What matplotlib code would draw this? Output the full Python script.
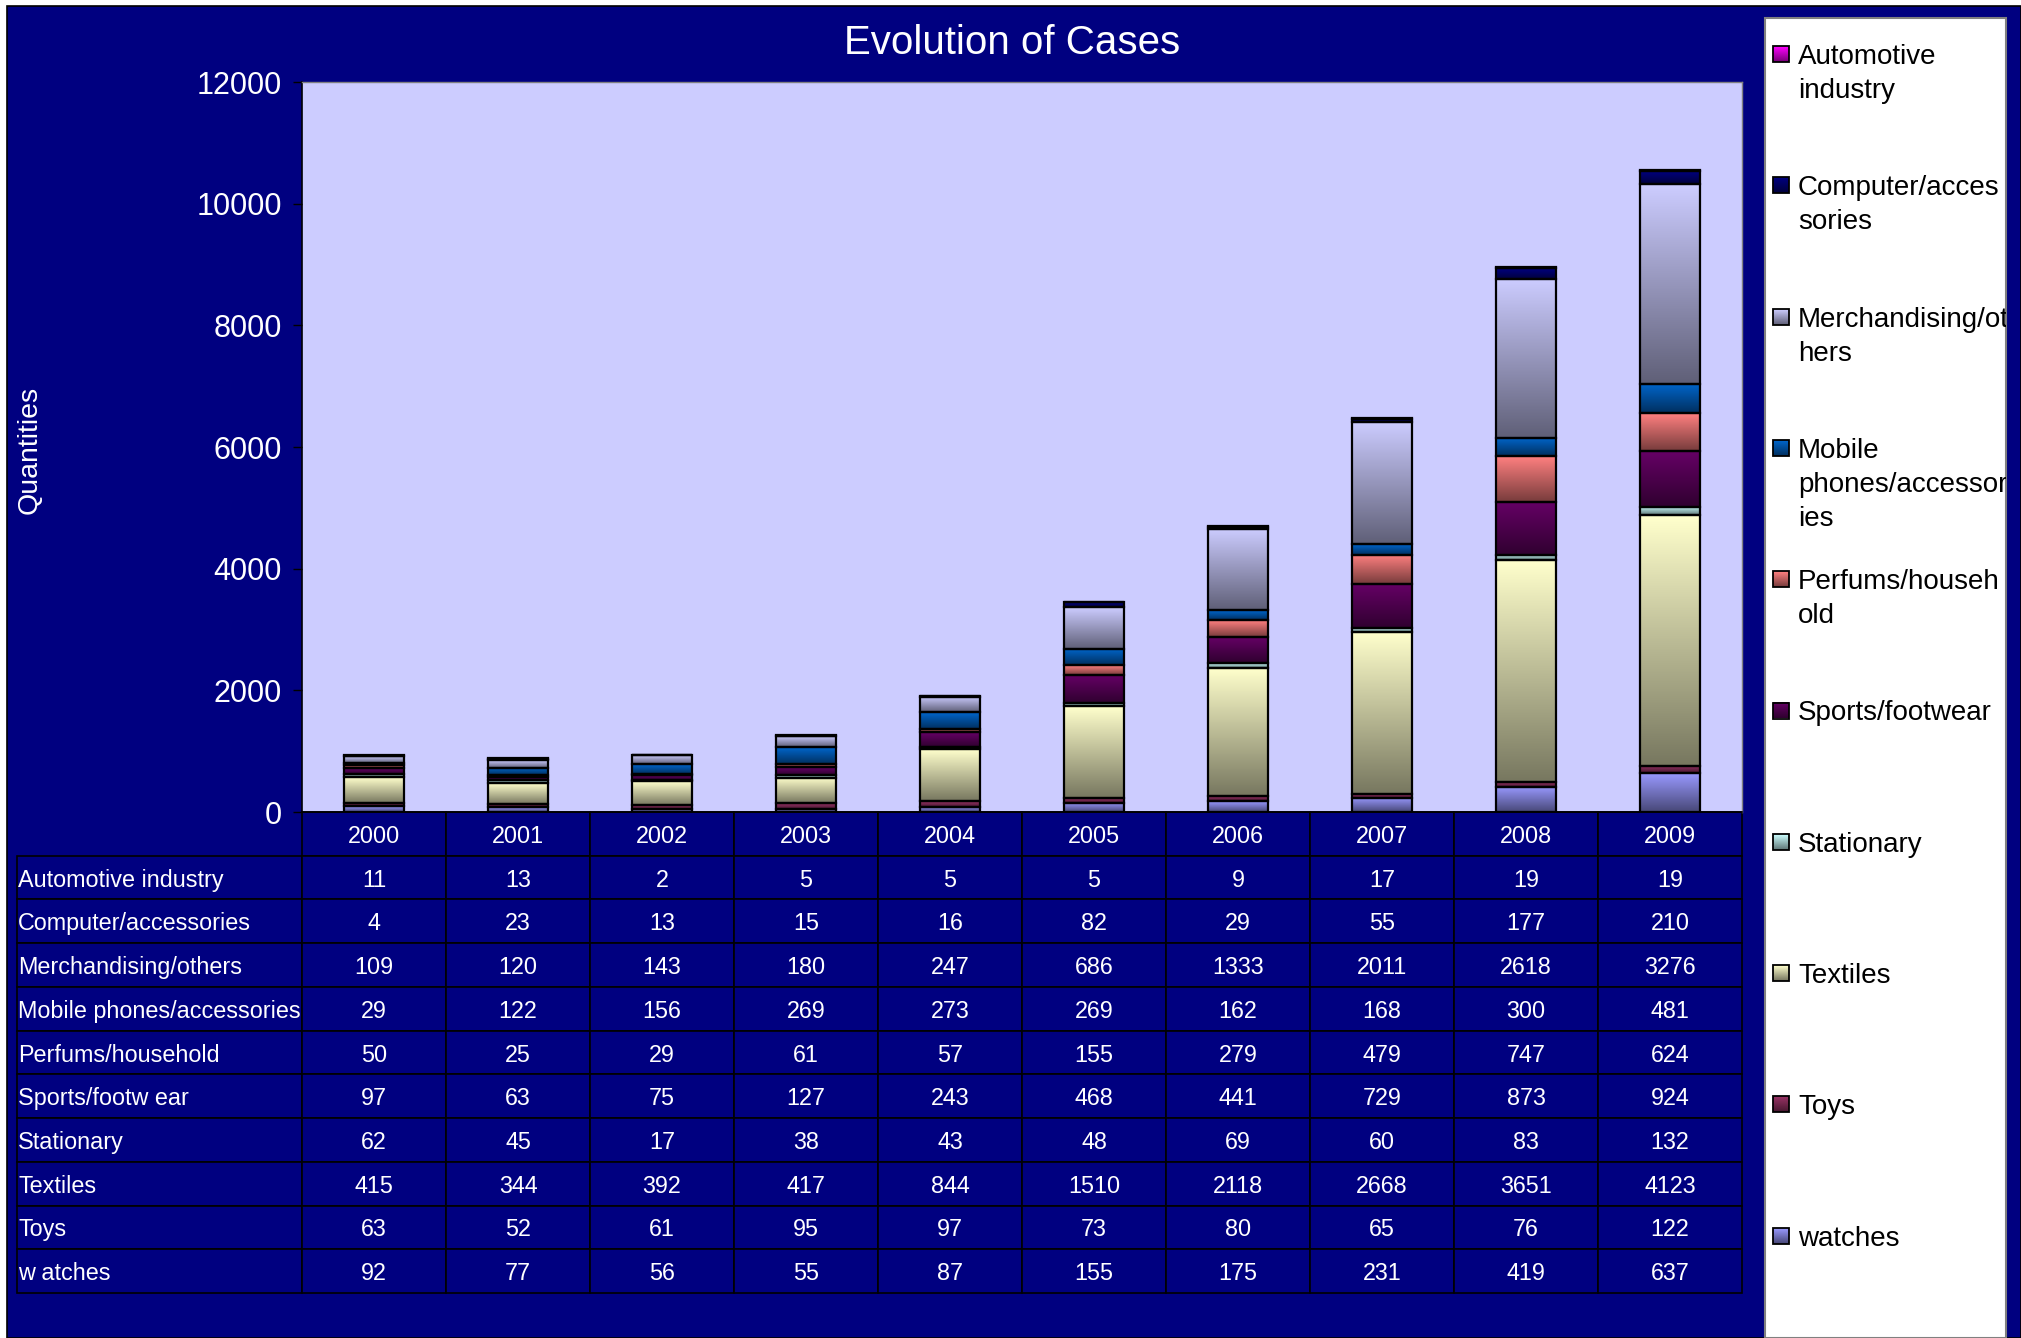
import numpy as np
import matplotlib
matplotlib.use("Agg")
import matplotlib.pyplot as plt
from matplotlib.patches import Rectangle
from matplotlib.colors import to_rgb

# ---------------- data ----------------
years = ["2000", "2001", "2002", "2003", "2004", "2005", "2006", "2007", "2008", "2009"]
categories = ["Automotive industry", "Computer/accessories", "Merchandising/others",
              "Mobile phones/accessories", "Perfums/household", "Sports/footwear",
              "Stationary", "Textiles", "Toys", "watches"]
table_labels = ["Automotive industry", "Computer/accessories", "Merchandising/others",
                "Mobile phones/accessories", "Perfums/household", "Sports/footw ear",
                "Stationary", "Textiles", "Toys", "w atches"]
legend_labels = [["Automotive", "industry"], ["Computer/acces", "sories"],
                 ["Merchandising/ot", "hers"], ["Mobile", "phones/accessor", "ies"],
                 ["Perfums/househ", "old"], ["Sports/footwear"], ["Stationary"],
                 ["Textiles"], ["Toys"], ["watches"]]

automotive = [11, 13, 2, 5, 5, 5, 9, 17, 19, 19]
computer = [4, 23, 13, 15, 16, 82, 29, 55, 177, 210]
merchandising = [109, 120, 143, 180, 247, 686, 1333, 2011, 2618, 3276]
mobile = [29, 122, 156, 269, 273, 269, 162, 168, 300, 481]
perfums = [50, 25, 29, 61, 57, 155, 279, 479, 747, 624]
sports = [97, 63, 75, 127, 243, 468, 441, 729, 873, 924]
stationary = [62, 45, 17, 38, 43, 48, 69, 60, 83, 132]
textiles = [415, 344, 392, 417, 844, 1510, 2118, 2668, 3651, 4123]
toys = [63, 52, 61, 95, 97, 73, 80, 65, 76, 122]
watches = [92, 77, 56, 55, 87, 155, 175, 231, 419, 637]
values = [automotive, computer, merchandising, mobile, perfums, sports,
          stationary, textiles, toys, watches]

colors = ["#FF00FF", "#000080", "#CCCCFF", "#0066CC", "#FF8080", "#660066",
          "#CCFFFF", "#FFFFCC", "#993366", "#9999FF"]

NAVY = "#000080"
plt.rcParams['font.family'] = ['Liberation Sans', 'DejaVu Sans']

W, H = 2021, 1338
fig = plt.figure(figsize=(W / 100, H / 100), dpi=100)
fig.patch.set_facecolor('white')


def fx(px):
    return px / W


def fy(py):
    return 1 - py / H


def gradient(col, n=64, w=1):
    c = np.array(to_rgb(col))
    t = np.linspace(0, 1, n)[:, None]
    arr = c * (1 - t) + c * 0.47 * t
    return np.repeat(arr[:, None, :], w, axis=1)


# navy chart background
fig.add_artist(Rectangle((fx(7), 0), fx(W - 7), 1 - 6 / H, transform=fig.transFigure,
                         facecolor=NAVY, edgecolor='black', lw=1.2, zorder=0))

# ---------------- axes ----------------
ax = fig.add_axes([fx(302), fy(812), fx(1440), (812 - 82) / H])
ax.set_facecolor('#CCCCFF')
x = np.arange(len(years))
bottom = np.zeros(len(years))
for name, vals, col in reversed(list(zip(categories, values, colors))):
    vals = np.array(vals, dtype=float)
    bars = ax.bar(x, vals, 0.42, bottom=bottom, facecolor='none',
                  edgecolor='black', lw=1.6, zorder=3)
    g = gradient(col)
    for b in bars:
        ax.imshow(g, extent=(b.get_x(), b.get_x() + b.get_width(),
                             b.get_y(), b.get_y() + b.get_height()),
                  aspect='auto', interpolation='bilinear', zorder=2)
    bottom += vals

ax.set_xlim(-0.5, len(years) - 0.5)
ax.set_ylim(0, 12000)
ax.set_yticks(np.arange(0, 12001, 2000))
ax.set_xticks([])
ax.tick_params(axis='y', length=6.5, width=1, color='black', labelcolor='white',
               labelsize=22, pad=8)
for s in ['left', 'bottom']:
    ax.spines[s].set_color('black')
    ax.spines[s].set_linewidth(1.2)
for s in ['top', 'right']:
    ax.spines[s].set_color('#808080')
    ax.spines[s].set_linewidth(1.0)

# ---------------- data table ----------------
ax_w, ax_h = 1440.0, 730.0
tbl = ax.table(cellText=[[str(v) for v in row] for row in values],
               rowLabels=table_labels, colLabels=years,
               cellLoc='center', rowLoc='left',
               bbox=[0, -(1293 - 812) / ax_h, 1, (1293 - 812) / ax_h])
tbl.auto_set_font_size(False)
tbl.set_fontsize(16.8)
for (r, c), cell in tbl.get_celld().items():
    cell.set_facecolor(NAVY)
    cell.set_edgecolor('black')
    cell.set_linewidth(1.2)
    cell.get_text().set_color('white')
    cell.get_text().set_va('center_baseline')
    if c == -1:
        cell.set_width(292 / ax_w)
        cell.PAD = 0.004
    else:
        cell.set_width(144 / ax_w)
    cell.set_height(43.7 / ax_h)

# ---------------- titles ----------------
fig.text(fx(1012), fy(54), "Evolution of Cases", color='white', fontsize=29,
         ha='center', va='baseline')
fig.text(fx(30), fy(450), "Quantities", color='white', fontsize=20.5,
         rotation=90, ha='center', va='center')

# ---------------- legend ----------------
leg_box = Rectangle((fx(1765), 0), fx(2006 - 1765), 1 - 18 / H,
                    transform=fig.transFigure, facecolor='white',
                    edgecolor='#808080', lw=1.5, zorder=1)
fig.add_artist(leg_box)
fs = 20
cap = fs * 100 / 72 * 0.716
for i, (lines, col) in enumerate(zip(legend_labels, colors)):
    yc = 54 + i * 131.3
    fig.figimage(gradient(col, 16, 16), xo=1773, yo=int(round(H - (yc + 8))), zorder=2)
    sw = Rectangle((fx(1773), fy(yc + 8)), fx(16), 16 / H, transform=fig.transFigure,
                   facecolor='none', edgecolor='black', lw=1.3, zorder=3)
    fig.add_artist(sw)
    for k, line in enumerate(lines):
        t = fig.text(fx(1798), fy(yc + cap / 2 + k * 34), line, color='black',
                     fontsize=fs, ha='left', va='baseline', zorder=4)
        t.set_clip_path(leg_box)

fig.savefig("out.png", dpi=100, facecolor=fig.get_facecolor())
